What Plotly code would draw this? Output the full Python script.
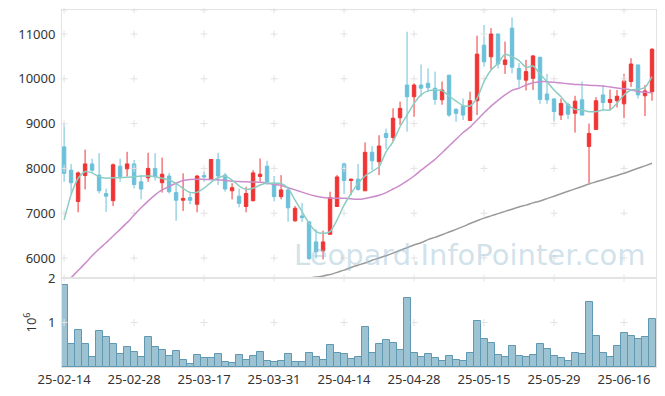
import plotly.graph_objects as go
from plotly.subplots import make_subplots

# ---- data ----
month_days = {
    "02": [14, 17, 18, 19, 20, 21, 24, 25, 26, 27, 28],
    "03": [4, 5, 6, 7, 10, 11, 12, 13, 14, 17, 18, 19, 20, 21, 24, 25, 26, 27, 28, 31],
    "04": [1, 2, 3, 4, 7, 8, 9, 10, 11, 14, 15, 16, 17, 18, 21, 22, 23, 24, 25, 28, 29, 30],
    "05": [2, 7, 8, 9, 12, 13, 14, 15, 16, 19, 20, 21, 22, 23, 26, 27, 28, 29, 30],
    "06": [2, 4, 5, 9, 10, 11, 12, 13, 16, 17, 18, 19, 20],
}
dates = [f"25-{m}-{d:02d}" for m, ds in month_days.items() for d in ds]

opens = [8480, 7960, 7260, 7840, 8100, 7850, 7440, 7280, 8050, 7990,
         8100, 7700, 7790, 8000, 7680, 7830, 7460, 7290, 7350, 7200,
         7840, 7750, 8200, 7850, 7500, 7380, 7150, 7280, 7820, 8050,
         7670, 7370, 7520, 6830, 6940, 6810, 6360, 6160, 6530, 7150,
         8100, 7730, 7760, 7500, 8360, 8150, 8780, 8690, 9130, 9860,
         9600, 9860, 9900, 9790, 9530, 10080, 9320, 9390, 9070, 9510,
         10750, 10490, 11000, 10320, 11130, 10230, 9970, 10010, 10480, 9660,
         9550, 9190, 9430, 9230, 9530, 8490, 8870, 9640, 9470, 9510,
         9440, 9940, 10310, 9620, 9710]
highs = [9000, 8100, 7930, 8420, 8220, 8340, 7550, 8110, 8220, 8370,
         8190, 7850, 8350, 8340, 8240, 7900, 7680, 7890, 7480, 7850,
         7930, 8210, 8350, 7900, 7670, 7550, 7590, 7960, 8220, 8170,
         7830, 7850, 7590, 7160, 7230, 6820, 6640, 6610, 7480, 7850,
         8130, 7770, 8100, 8580, 8500, 8740, 8890, 9340, 9490, 11050,
         9900, 10320, 10230, 10160, 9940, 10090, 9340, 9560, 9710, 10960,
         11200, 11130, 11010, 10830, 11370, 10350, 10420, 10530, 10490, 10110,
         9560, 9560, 9470, 9620, 9940, 9000, 9590, 9860, 9760, 9750,
         10110, 10460, 10310, 9860, 10680]
lows = [7700, 7430, 7020, 7530, 7890, 7440, 7030, 7160, 7700, 7820,
        7550, 7310, 7700, 7730, 7460, 7440, 6830, 7050, 7200, 7020,
        7700, 7740, 7630, 7480, 7310, 7130, 7020, 7260, 7700, 7630,
        7260, 7310, 6810, 6810, 6800, 5950, 5990, 5970, 6520, 7140,
        7430, 7410, 7500, 7500, 7960, 7850, 8430, 8600, 8970, 8820,
        9150, 9600, 9710, 9420, 9420, 9150, 9040, 9080, 9060, 9190,
        10270, 10210, 10230, 10110, 10120, 9810, 9740, 9750, 9440, 9440,
        9040, 9080, 9100, 8800, 9190, 7670, 8860, 9300, 9300, 9360,
        9120, 9820, 9560, 9170, 9510]
closes = [7890, 7680, 7900, 8100, 7960, 7500, 7380, 8080, 7820, 8100,
          7640, 7540, 8000, 7820, 7870, 7480, 7290, 7330, 7290, 7830,
          7810, 8200, 7830, 7540, 7570, 7220, 7440, 7900, 7870, 7700,
          7370, 7520, 7120, 7110, 6900, 5990, 6140, 6360, 7350, 7810,
          7730, 7760, 7530, 8360, 8170, 8500, 8690, 9120, 9340, 9600,
          9860, 9790, 9800, 9540, 9750, 9190, 9230, 9190, 9510, 10550,
          10380, 11000, 10330, 10420, 10260, 9990, 10160, 10510, 9540, 9530,
          9270, 9450, 9210, 9500, 9190, 8780, 9510, 9470, 9540, 9610,
          9950, 10330, 9640, 9730, 10660]
ma5 = [6850, 7410, 7780, 7930, 7900, 7815, 7780, 7790, 7790, 7800,
       7815, 7830, 7830, 7815, 7780, 7740, 7665, 7555, 7465, 7470,
       7560, 7690, 7790, 7830, 7740, 7610, 7530, 7555, 7630, 7675,
       7666, 7666, 7555, 7294, 7034, 6774, 6590, 6550, 6590, 6850,
       7180, 7440, 7666, 7830, 7930, 8040, 8370, 8600, 8930, 9190,
       9450, 9640, 9730, 9750, 9735, 9616, 9504, 9400, 9392, 9563,
       9935, 10196, 10345, 10546, 10493, 10404, 10255, 10285, 10107, 9935,
       9749, 9601, 9415, 9318, 9303, 9266, 9266, 9303, 9303, 9452,
       9638, 9750, 9764, 9809, 10047]
ma20 = [5380, 5560, 5720, 5880, 6050, 6200, 6340, 6490, 6640, 6790,
        6960, 7120, 7270, 7410, 7520, 7600, 7670, 7730, 7755, 7760,
        7755, 7750, 7745, 7730, 7715, 7705, 7700, 7695, 7690, 7670,
        7640, 7620, 7570, 7520, 7470, 7420, 7380, 7350, 7340, 7335,
        7335, 7320, 7310, 7330, 7360, 7400, 7460, 7540, 7620, 7720,
        7830, 7960, 8080, 8200, 8350, 8500, 8650, 8800, 8920, 9080,
        9240, 9390, 9520, 9640, 9740, 9790, 9860, 9910, 9935, 9935,
        9920, 9905, 9890, 9875, 9865, 9855, 9850, 9840, 9815, 9795,
        9775, 9750, 9715, 9700, 9690]
ma60 = [None] * 34 + [
        5500, 5550, 5575, 5600, 5630, 5680,
        5730, 5790, 5840, 5890, 5950, 6000, 6050, 6110, 6170, 6230,
        6290, 6340, 6410, 6460, 6520, 6580, 6640, 6700, 6770, 6830,
        6890, 6940, 6990, 7040, 7090, 7140, 7180, 7230, 7272, 7326,
        7380, 7435, 7489, 7543, 7597, 7652, 7700, 7748, 7795, 7843,
        7890, 7946, 8002, 8057, 8113]
volume_m = [1.84, 0.52, 0.84, 0.52, 0.22, 0.82, 0.68, 0.52, 0.30, 0.45,
            0.34, 0.23, 0.68, 0.45, 0.39, 0.25, 0.36, 0.16, 0.07, 0.27,
            0.20, 0.20, 0.30, 0.11, 0.08, 0.27, 0.16, 0.24, 0.33, 0.13,
            0.11, 0.13, 0.29, 0.11, 0.11, 0.31, 0.22, 0.16, 0.49, 0.31,
            0.29, 0.17, 0.22, 0.90, 0.31, 0.52, 0.61, 0.54, 0.38, 1.56,
            0.31, 0.22, 0.29, 0.20, 0.13, 0.24, 0.16, 0.13, 0.31, 1.04,
            0.63, 0.54, 0.27, 0.22, 0.47, 0.24, 0.22, 0.27, 0.52, 0.40,
            0.24, 0.20, 0.13, 0.31, 0.29, 1.45, 0.70, 0.31, 0.22, 0.47,
            0.77, 0.70, 0.63, 0.67, 1.08]
price_ticks = [6000, 7000, 8000, 9000, 10000, 11000]
vol_ticks = [1, 2]
xtick_idx = list(range(0, 81, 10))
xtick_labels = [dates[i] for i in xtick_idx]

# ---- styles ----
UP = "#f03434"
DOWN = "#6cc0da"
FONT = "Noto Sans"
TXT = "#333333"
BORDER = "#e3e3e3"
CROSS = "#e2e2e2"
PRICE_RANGE = [5554, 11535]
VOL_RANGE = [0, 2.0]

fig = make_subplots(rows=2, cols=1, shared_xaxes=True, vertical_spacing=0,
                    row_heights=[268, 89])

# the candle trace first so that the category order follows the dates
fig.add_trace(go.Candlestick(
    x=dates, open=opens, high=highs, low=lows, close=closes,
    increasing=dict(line=dict(color=UP, width=1), fillcolor=UP),
    decreasing=dict(line=dict(color=DOWN, width=1), fillcolor=DOWN),
    whiskerwidth=0, hoverinfo="skip"), row=1, col=1)

# grid crosses
cx, cy = [], []
for xi in xtick_labels:
    for yv in price_ticks + [PRICE_RANGE[1], PRICE_RANGE[0]]:
        cx.append(xi); cy.append(yv)
fig.add_trace(go.Scatter(x=cx, y=cy, mode="markers", cliponaxis=False,
                         marker=dict(symbol="cross-thin", size=5,
                                     line=dict(color=CROSS, width=1)),
                         hoverinfo="skip"), row=1, col=1)

fig.add_trace(go.Scatter(x=dates, y=ma60, mode="lines",
                         line=dict(color="#9a9a9a", width=1.5, shape="spline", smoothing=0.6)),
              row=1, col=1)
fig.add_trace(go.Scatter(x=dates, y=ma20, mode="lines",
                         line=dict(color="#cc8ccb", width=1.5, shape="spline", smoothing=0.6)),
              row=1, col=1)
fig.add_trace(go.Scatter(x=dates, y=ma5, mode="lines",
                         line=dict(color="#8ccdc3", width=1.5, shape="spline", smoothing=0.6)),
              row=1, col=1)

fig.add_trace(go.Bar(x=dates, y=volume_m,
                     marker=dict(color="#9dc3d3", line=dict(color="#5e98b2", width=1))),
              row=2, col=1)
fig.add_trace(go.Scatter(x=xtick_labels, y=[1] * len(xtick_labels), mode="markers", cliponaxis=False,
                         marker=dict(symbol="cross-thin", size=5,
                                     line=dict(color=CROSS, width=1)),
                         hoverinfo="skip"), row=2, col=1)

fig.add_annotation(text="Leopard.InfoPointer.com", xref="paper", yref="paper",
                   x=0.687, y=0.314, xanchor="center", yanchor="middle", showarrow=False,
                   font=dict(family="DejaVu Sans", size=29, color="rgba(150,190,210,0.45)"))

# the page body adds an 8px offset; the figure is sized so that the plot
# area lands on the reference's pixels (x 62..656, y 10..367)
fig.update_layout(
    width=657, height=388, margin=dict(l=54, r=9, t=2, b=29, autoexpand=False),
    paper_bgcolor="white", plot_bgcolor="white", showlegend=False,
    bargap=0, font=dict(family=FONT, size=13, color=TXT),
    boxgap=0.3,
)
fig.update_xaxes(type="category", categoryorder="array", categoryarray=dates,
                 range=[-0.3, 84.57], showgrid=False, zeroline=False, automargin=False,
                 showline=True, linecolor=BORDER, linewidth=1, mirror=True,
                 rangeslider_visible=False, tickvals=xtick_labels, ticktext=xtick_labels,
                 ticks="", tickfont=dict(family=FONT, size=13, color=TXT))
fig.update_xaxes(showticklabels=False, row=1, col=1)
fig.update_yaxes(range=PRICE_RANGE, tickvals=price_ticks, tickformat="d", showgrid=False, zeroline=False,
                 showline=True, linecolor=BORDER, mirror=True, automargin=False,
                 ticks="outside", ticklen=3, tickcolor="rgba(0,0,0,0)",
                 tickfont=dict(family=FONT, size=13, color=TXT), row=1, col=1)
fig.update_yaxes(range=VOL_RANGE, tickvals=vol_ticks, tickformat="d", showgrid=False, zeroline=False,
                 showline=True, linecolor=BORDER, mirror=True, automargin=False,
                 ticks="outside", ticklen=3, tickcolor="rgba(0,0,0,0)",
                 title=dict(text="10<sup>6</sup>", font=dict(family=FONT, size=13, color=TXT), standoff=8),
                 tickfont=dict(family=FONT, size=13, color=TXT), row=2, col=1)

fig.write_html("out.html")
